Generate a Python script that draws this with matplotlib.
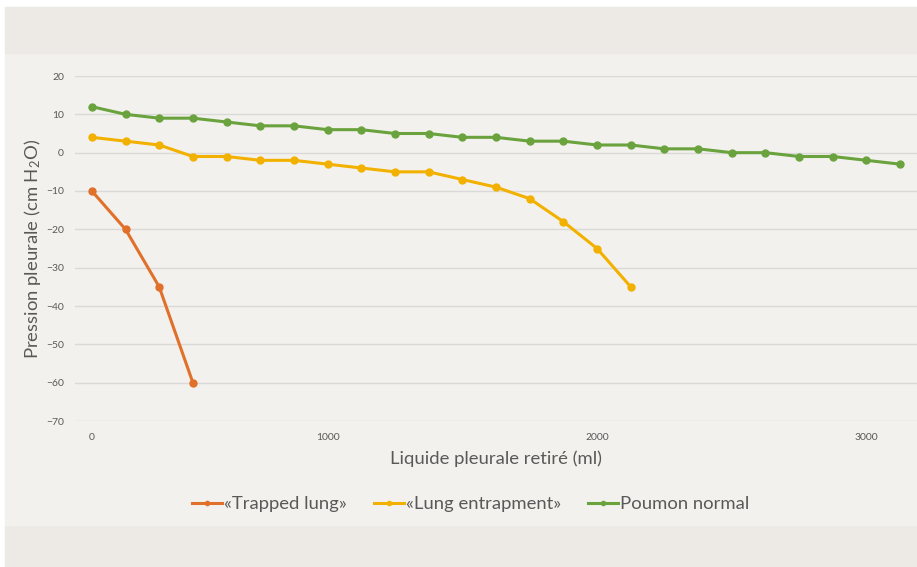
import matplotlib
matplotlib.use("Agg")
import matplotlib.pyplot as plt
from matplotlib.patches import Rectangle

plt.rcParams['font.family'] = ['Lato', 'DejaVu Sans']
plt.rcParams['mathtext.default'] = 'regular'

trapped = [-10, -20, -35, -60]
entrapment = [4, 3, 2, -1, -1, -2, -2, -3, -4, -5, -5, -7, -9, -12, -18, -25, -35]
normal = [12, 10, 9, 9, 8, 7, 7, 6, 6, 5, 5, 4, 4, 3, 3, 2, 2, 1, 1, 0, 0, -1, -1, -2, -3]
xtick_pos = [0, 7, 15, 23]
xtick_labels = ['0', '1000', '2000', '3000']
yticks = list(range(-70, 21, 10))

names = ['«Trapped lung»', '«Lung entrapment»', 'Poumon normal']
colors = ['#E0702A', '#F2B100', '#6AA33E']

fig = plt.figure(figsize=(9.17, 5.67), dpi=100)
fig.patch.set_facecolor('white')
# background bands
fig.patches.append(Rectangle((5/917, 0), 1, 42/567, transform=fig.transFigure,
                             color='#edeae6', zorder=-3))
fig.patches.append(Rectangle((5/917, 42/567), 1, 472/567, transform=fig.transFigure,
                             color='#f2f1ed', zorder=-3))
fig.patches.append(Rectangle((5/917, 514/567), 1, 46/567, transform=fig.transFigure,
                             color='#edeae6', zorder=-3))

ax = fig.add_axes([75/917, 1 - 421/567, 842/917, (421 - 76)/567])
ax.set_facecolor('none')

for vals, name, c in zip([trapped, entrapment, normal], names, colors):
    ax.plot(range(len(vals)), vals, '-o', color=c, lw=2.2, ms=5, label=name)

ax.set_xlim(-0.5, 24.5)
ax.set_ylim(-70, 20)
ax.set_yticks(yticks)
ax.set_xticks(xtick_pos)
ax.set_xticklabels(xtick_labels)
ax.grid(axis='y', color='#d9d9d9', lw=1)
ax.set_axisbelow(True)
for s in ax.spines.values():
    s.set_visible(False)
ax.tick_params(length=0, labelsize=7.5, colors='#595959')
ax.tick_params(axis='y', pad=8)
ax.tick_params(axis='x', pad=9)

ax.set_ylabel('Pression pleurale (cm H$_2$O)', fontsize=13.3, color='#595959', labelpad=2)
ax.set_xlabel('Liquide pleurale retiré (ml)', fontsize=13.3, color='#595959', labelpad=6)

leg = ax.legend(loc='upper center', bbox_to_anchor=(0.47, -0.17), ncol=3, frameon=False,
                fontsize=13.3, handlelength=1.6, handletextpad=0.1, columnspacing=1.5,
                markerscale=0.6)
for t in leg.get_texts():
    t.set_color('#595959')

fig.savefig('out.png', dpi=100, facecolor=fig.get_facecolor())
